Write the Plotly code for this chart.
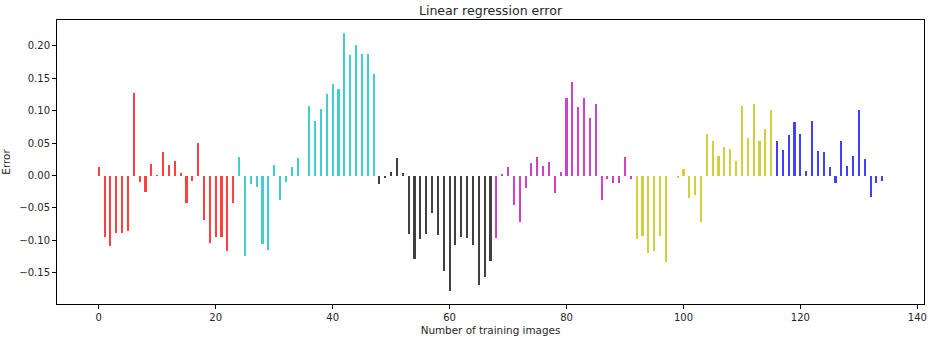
import plotly.graph_objects as go

# Errors per number of training images (index 0..134)
errors = [
    0.0134, -0.0947, -0.109, -0.088, -0.088, -0.085, 0.1276, -0.0093, -0.0252, 0.018,
    0.0015, 0.036, 0.0165, 0.0226, 0.0036, -0.0427, -0.0077, 0.0504, -0.069, -0.104,
    -0.0947, -0.0947, -0.1168, -0.0427,
    0.0293, -0.1235, -0.0123, -0.017, -0.106, -0.1152, 0.016, -0.038, -0.0093, 0.0134,
    0.0278, 0.0, 0.108, 0.0844, 0.1019, 0.126, 0.1404, 0.1337, 0.2191, 0.1857,
    0.2016, 0.1872, 0.1872, 0.1564,
    -0.0123, -0.003, 0.006, 0.0278, 0.004, -0.0895, -0.128, -0.0977, -0.0895, -0.057,
    -0.091, -0.147, -0.178, -0.107, -0.0947, -0.096, -0.107, -0.1687, -0.157, -0.131,
    -0.096, 0.002, 0.0134, -0.046, -0.072, -0.0185, 0.0195, 0.0293, 0.0149, 0.0211,
    -0.0267, 0.005, 0.1193, 0.145, 0.105, 0.1193, 0.0885, 0.111, -0.038, -0.0057,
    -0.0108, -0.0108, 0.0293, -0.0057,
    -0.0977, -0.0926, -0.12, -0.1168, -0.0926, -0.1327, 0.0, -0.003, 0.0098, -0.0345,
    -0.03, -0.072, 0.0648, 0.0535, 0.0309, 0.0437, 0.0406, 0.0226, 0.1065, 0.0581,
    0.110, 0.0535, 0.0725, 0.1003,
    0.0535, 0.039, 0.0633, 0.0823, 0.0648, 0.0067, 0.0844, 0.0376, 0.036, 0.0134,
    -0.0108, 0.0535, 0.0149, 0.0309, 0.1003, 0.0262, -0.0334, -0.0108, -0.0077,
]
group_sizes = [24, 24, 20, 24, 24, 19]
group_colors = ["rgba(255,0,0,0.75)", "rgba(0,191,191,0.75)", "rgba(0,0,0,0.75)",
                "rgba(191,0,191,0.75)", "rgba(191,191,0,0.75)", "rgba(0,0,255,0.75)"]
x_ticks = [0, 20, 40, 60, 80, 100, 120, 140]
y_ticks = [-0.15, -0.10, -0.05, 0.0, 0.05, 0.10, 0.15, 0.20]

colors = []
for size, col in zip(group_sizes, group_colors):
    colors += [col] * size
xs = list(range(len(errors)))

fig = go.Figure(go.Bar(x=xs, y=errors, width=0.36, marker=dict(color=colors, line=dict(width=0))))

font = dict(family="DejaVu Sans", size=10, color="#262626")
label_font = dict(family="DejaVu Sans", size=10.4, color="#262626")
fig.update_layout(
    width=932, height=339,
    margin=dict(l=57, r=5, t=20, b=35),
    paper_bgcolor="white", plot_bgcolor="white",
    showlegend=False,
    font=font,
    title=dict(text="Linear regression error", xref="paper", x=0.5, xanchor="center",
               yref="container", y=0.97, yanchor="middle",
               font=dict(family="DejaVu Sans", size=12.6, color="#262626")),
    bargap=0,
)
fig.update_xaxes(
    range=[-7.14, 141.14], tickvals=x_ticks, ticktext=[str(v) for v in x_ticks],
    showline=True, linecolor="black", linewidth=1, mirror=True,
    ticks="outside", ticklen=4, tickcolor="black", showgrid=False, zeroline=False,
    title=dict(text="Number of training images", standoff=4, font=label_font),
)
fig.update_yaxes(
    range=[-0.198, 0.2398], tickvals=y_ticks, tickformat=".2f",
    showline=True, linecolor="black", linewidth=1, mirror=True,
    ticks="outside", ticklen=4, tickcolor="black", showgrid=False, zeroline=False,
    title=dict(text="Error", standoff=6, font=label_font),
)
fig.write_html("out.html")
